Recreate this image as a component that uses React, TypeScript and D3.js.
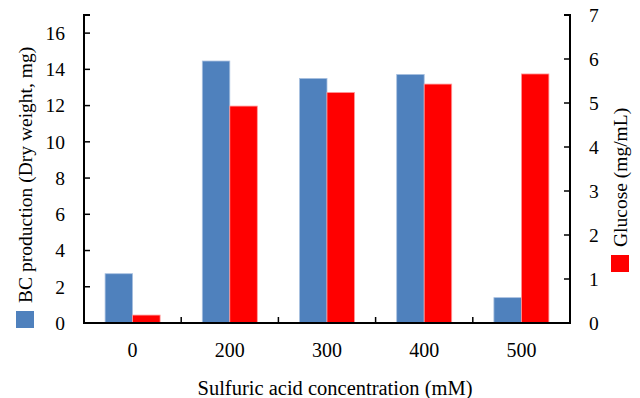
import React from "react";
import * as d3 from "d3";

const categories = ["0", "200", "300", "400", "500"];
const bcProduction = [2.72, 14.46, 13.5, 13.72, 1.4];
const glucose = [0.18, 4.93, 5.24, 5.43, 5.66];
const leftTicks = [0, 2, 4, 6, 8, 10, 12, 14, 16];
const rightTicks = [0, 1, 2, 3, 4, 5, 6, 7];

const W = 640;
const H = 398;
const margin = { top: 15, right: 70, bottom: 75, left: 84 };
const font = "'Liberation Serif', 'Times New Roman', serif";
const blue = "#4f81bd";
const red = "#ff0000";

export default function App() {
  const x0 = margin.left;
  const x1 = W - margin.right;
  const y0 = H - margin.bottom;
  const y1 = margin.top;

  const x = d3.scaleBand().domain(categories).range([x0, x1]).padding(0);
  const inner = d3
    .scaleBand()
    .domain(["bc", "glu"])
    .range([0, x.bandwidth()])
    .paddingInner(0)
    .paddingOuter(0.767);
  const yL = d3.scaleLinear().domain([0, 17]).range([y0, y1]);
  const yR = d3.scaleLinear().domain([0, 7]).range([y0, y1]);

  return (
    <svg
      width={W}
      height={H}
      style={{ position: "absolute", left: 0, top: 0, background: "#fff" }}
      fontFamily={font}
    >
      {/* bars */}
      {categories.map((c, i) => (
        <g key={c} transform={`translate(${x(c)},0)`}>
          <rect
            x={inner("bc")}
            y={yL(bcProduction[i])}
            width={inner.bandwidth()}
            height={y0 - yL(bcProduction[i])}
            fill={blue}
            stroke="#a9c1e0"
            strokeWidth={0.8}
          />
          <rect
            x={inner("glu")}
            y={yR(glucose[i])}
            width={inner.bandwidth()}
            height={y0 - yR(glucose[i])}
            fill={red}
            stroke="#ff9a9a"
            strokeWidth={0.8}
          />
        </g>
      ))}

      {/* frame: left, right, bottom axes */}
      <path
        d={`M${x0},${y1}V${y0}H${x1}V${y1}`}
        fill="none"
        stroke="#000"
        strokeWidth={2}
      />
      <line x1={x0 - 1} x2={x0 + 6} y1={y1} y2={y1} stroke="#000" strokeWidth={2} />
      <line x1={x1 - 6} x2={x1 + 1} y1={y1} y2={y1} stroke="#000" strokeWidth={2} />

      {/* left ticks */}
      {leftTicks.map((t) => (
        <g key={"l" + t}>
          <line x1={x0} x2={x0 + 6} y1={yL(t)} y2={yL(t)} stroke="#000" strokeWidth={1.5} />
          <text x={x0 - 19} y={yL(t)} dy="0.35em" textAnchor="end" fontSize={19.5}>
            {t}
          </text>
        </g>
      ))}

      {/* right ticks */}
      {rightTicks.map((t) => (
        <g key={"r" + t}>
          <line x1={x1 - 6} x2={x1} y1={yR(t)} y2={yR(t)} stroke="#000" strokeWidth={1.5} />
          <text x={x1 + 19} y={yR(t)} dy="0.35em" textAnchor="start" fontSize={19.5}>
            {t}
          </text>
        </g>
      ))}

      {/* x ticks between categories */}
      {categories.slice(1).map((c) => (
        <line
          key={"x" + c}
          x1={x(c)}
          x2={x(c)}
          y1={y0}
          y2={y0 - 6}
          stroke="#000"
          strokeWidth={1.5}
        />
      ))}
      {categories.map((c) => (
        <text
          key={"xl" + c}
          x={(x(c) ?? 0) + x.bandwidth() / 2}
          y={350}
          dy="0.35em"
          textAnchor="middle"
          fontSize={20}
        >
          {c}
        </text>
      ))}

      {/* x axis title */}
      <text x={(x0 + x1) / 2 + 8} y={388} dy="0.35em" textAnchor="middle" fontSize={20.5}>
        Sulfuric acid concentration (mM)
      </text>

      {/* left legend / axis title */}
      <rect x={16} y={311} width={18} height={17} fill={blue} />
      <text
        transform="translate(25,303) rotate(-90)"
        dy="0.35em"
        textAnchor="start"
        fontSize={19.5}
      >
        BC production (Dry weight, mg)
      </text>

      {/* right legend / axis title */}
      <rect x={611} y={255} width={18} height={17} fill={red} />
      <text
        transform="translate(620,247) rotate(-90)"
        dy="0.35em"
        textAnchor="start"
        fontSize={19.5}
      >
        Glucose (mg/mL)
      </text>
    </svg>
  );
}
